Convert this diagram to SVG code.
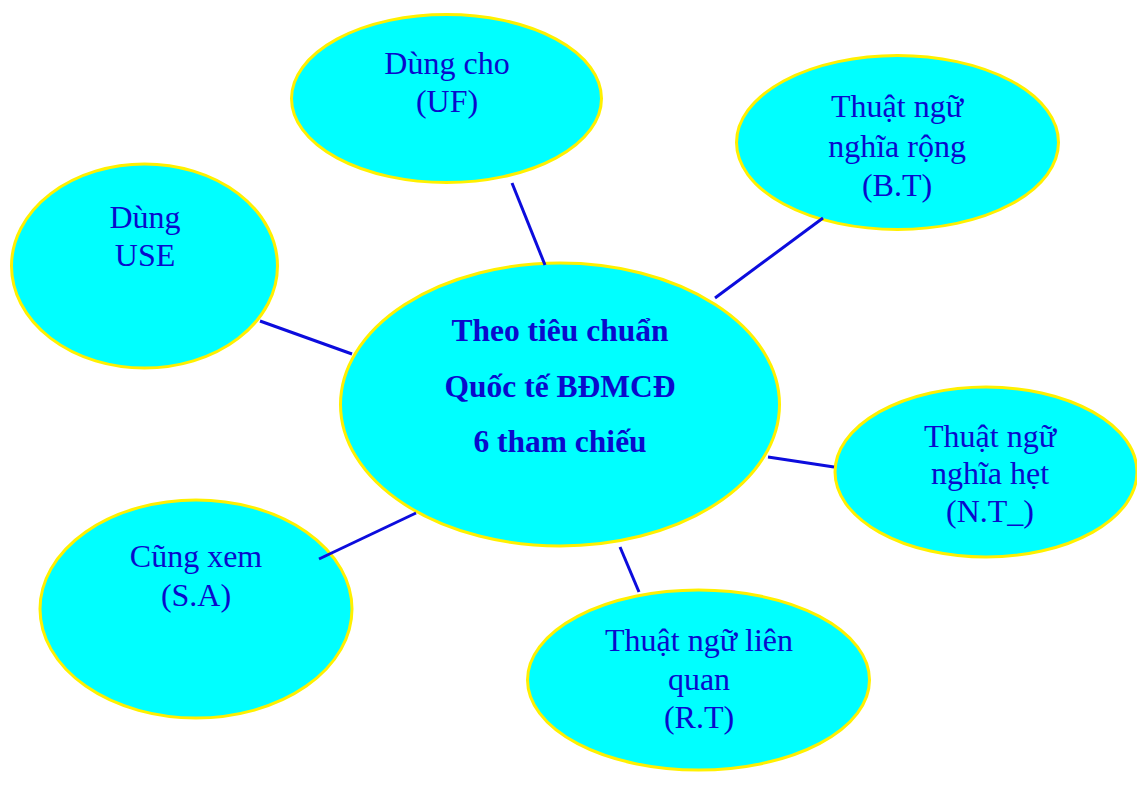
<svg xmlns="http://www.w3.org/2000/svg" width="1137" height="787" viewBox="0 0 1137 787">
  <style>
    .node { fill: #00FFFF; stroke: #FFF000; stroke-width: 3; }
    .lbl { font-family: "Liberation Serif", "Times New Roman", serif; font-size: 32px; fill: #0A0ACC; text-anchor: middle; }
    .hub { font-weight: bold; font-size: 31.5px; }
    .link { stroke: #0C0CDD; stroke-width: 3; }
  </style>
  <rect width="1137" height="787" fill="#FFFFFF"/>

  <g id="node-uf">
    <ellipse class="node" cx="446.5" cy="98.5" rx="155" ry="84"/>
    <text class="lbl" x="447" y="74">Dùng cho</text>
    <text class="lbl" x="447" y="112">(UF)</text>
  </g>

  <g id="node-bt">
    <ellipse class="node" cx="897.5" cy="142.5" rx="161" ry="87"/>
    <text class="lbl" x="897" y="117">Thuật ngữ</text>
    <text class="lbl" x="897" y="157">nghĩa rộng</text>
    <text class="lbl" x="897" y="196">(B.T)</text>
  </g>

  <g id="node-use">
    <ellipse class="node" cx="144.5" cy="266" rx="133" ry="102"/>
    <text class="lbl" x="145" y="228">Dùng</text>
    <text class="lbl" x="145" y="266">USE</text>
  </g>

  <g id="node-hub">
    <ellipse class="node" cx="560" cy="404.5" rx="219.5" ry="141.5"/>
    <text class="lbl hub" x="560" y="341">Theo tiêu chuẩn</text>
    <text class="lbl hub" x="560" y="397">Quốc tế BĐMCĐ</text>
    <text class="lbl hub" x="560" y="452">6 tham chiếu</text>
  </g>

  <g id="node-nt">
    <ellipse class="node" cx="986" cy="472" rx="151" ry="85"/>
    <text class="lbl" x="990" y="447">Thuật ngữ</text>
    <text class="lbl" x="990" y="484">nghĩa hẹt</text>
    <text class="lbl" x="990" y="522">(N.T_)</text>
  </g>

  <g id="node-sa">
    <ellipse class="node" cx="196" cy="609" rx="156" ry="109"/>
    <text class="lbl" x="196" y="567">Cũng xem</text>
    <text class="lbl" x="196" y="606">(S.A)</text>
  </g>

  <g id="node-rt">
    <ellipse class="node" cx="698.5" cy="680" rx="171" ry="90"/>
    <text class="lbl" x="699" y="651">Thuật ngữ liên</text>
    <text class="lbl" x="699" y="690">quan</text>
    <text class="lbl" x="699" y="728">(R.T)</text>
  </g>

  <!-- plain spokes from the hub out to each reference node -->
  <g id="connectors">
    <line class="link" x1="512" y1="183" x2="545" y2="265"/>
    <line class="link" x1="715" y1="298" x2="823" y2="218"/>
    <line class="link" x1="260" y1="321" x2="352" y2="354"/>
    <line class="link" x1="768" y1="457" x2="834" y2="467"/>
    <line class="link" x1="319" y1="559" x2="416" y2="513"/>
    <line class="link" x1="620" y1="547" x2="639" y2="592"/>
  </g>
</svg>
